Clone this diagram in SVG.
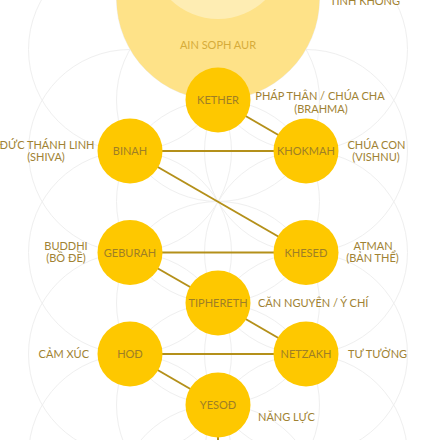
<svg xmlns="http://www.w3.org/2000/svg" width="435" height="440" viewBox="0 0 435 440">
<style>
.bg{fill:none;stroke:#efefef;stroke-width:1}
.node{fill:#FEC800}
.nt{font-family:Lato,"Open Sans","Noto Sans",sans-serif;font-size:11px;fill:#9E7F26;text-anchor:middle}
.lb{font-family:Lato,"Open Sans","Noto Sans",sans-serif;font-size:11px;fill:#A08233;text-anchor:middle}
.cn{stroke:#B4901A;stroke-width:2;fill:none}
</style>
<rect width="435" height="440" fill="#ffffff"/>
<g id="pattern">
<circle class="bg" cx="218" cy="-1.5" r="101.5"/>
<circle class="bg" cx="130" cy="49.5" r="101.5"/>
<circle class="bg" cx="306" cy="49.5" r="101.5"/>
<circle class="bg" cx="218" cy="100" r="101.5"/>
<circle class="bg" cx="130" cy="151" r="101.5"/>
<circle class="bg" cx="306" cy="151" r="101.5"/>
<circle class="bg" cx="218" cy="201.5" r="101.5"/>
<circle class="bg" cx="130" cy="252.5" r="101.5"/>
<circle class="bg" cx="306" cy="252.5" r="101.5"/>
<circle class="bg" cx="218" cy="303" r="101.5"/>
<circle class="bg" cx="130" cy="354" r="101.5"/>
<circle class="bg" cx="306" cy="354" r="101.5"/>
<circle class="bg" cx="218" cy="405" r="101.5"/>
<circle class="bg" cx="130" cy="456" r="101.5"/>
<circle class="bg" cx="306" cy="456" r="101.5"/>
<circle class="bg" cx="218" cy="506" r="101.5"/>
</g>
<g id="ain-soph-aur">
<circle cx="218" cy="-1.5" r="101.5" fill="#FEE288"/>
<circle cx="218" cy="-49" r="68" fill="#FEEDB3"/>
<text class="lb" x="218" y="49" style="fill:#D6AC3A">AIN SOPH AUR</text>
</g>
<g id="tinh-khong">
<text class="lb" x="365" y="5">TÍNH KHÔNG</text>
</g>
<g id="connectors">
<line class="cn" x1="218" y1="100" x2="306" y2="151"/>
<line class="cn" x1="130" y1="151" x2="306" y2="151"/>
<line class="cn" x1="130" y1="151" x2="306" y2="252.5"/>
<line class="cn" x1="130" y1="252.5" x2="306" y2="252.5"/>
<line class="cn" x1="130" y1="252.5" x2="218" y2="303"/>
<line class="cn" x1="218" y1="303" x2="306" y2="354"/>
<line class="cn" x1="130" y1="354" x2="306" y2="354"/>
<line class="cn" x1="130" y1="354" x2="218" y2="405"/>
<line class="cn" x1="218" y1="405" x2="218" y2="445"/>
</g>
<g id="kether">
<circle class="node" cx="218" cy="100" r="32.5"/>
<text class="nt" x="218" y="104">KETHER</text>
<text class="lb" x="320" y="100">PHÁP THÂN / CHÚA CHA</text>
<text class="lb" x="321" y="112.5">(BRAHMA)</text>
</g>
<g id="binah">
<circle class="node" cx="130" cy="151" r="32.5"/>
<text class="nt" x="130" y="155">BINAH</text>
<text class="lb" x="47" y="148.5">ĐỨC THÁNH LINH</text>
<text class="lb" x="46" y="161">(SHIVA)</text>
</g>
<g id="khokmah">
<circle class="node" cx="306" cy="151" r="32.5"/>
<text class="nt" x="306" y="155">KHOKMAH</text>
<text class="lb" x="376.5" y="148.5">CHÚA CON</text>
<text class="lb" x="376" y="161">(VISHNU)</text>
</g>
<g id="geburah">
<circle class="node" cx="130" cy="252.5" r="32.5"/>
<text class="nt" x="130" y="256.5">GEBURAH</text>
<text class="lb" x="66" y="249.5">BUDDHI</text>
<text class="lb" x="66" y="262">(BỒ ĐỀ)</text>
</g>
<g id="khesed">
<circle class="node" cx="306" cy="252.5" r="32.5"/>
<text class="nt" x="306" y="256.5">KHESEĐ</text>
<text class="lb" x="373" y="249.5">ATMAN</text>
<text class="lb" x="372.5" y="262">(BẢN THỂ)</text>
</g>
<g id="tiphereth">
<circle class="node" cx="218" cy="303" r="32.5"/>
<text class="nt" x="218" y="307">TIPHERETH</text>
<text class="lb" x="258" y="306.5" style="text-anchor:start">CĂN NGUYÊN / Ý CHÍ</text>
</g>
<g id="hod">
<circle class="node" cx="130" cy="354" r="32.5"/>
<text class="nt" x="130" y="358">HOĐ</text>
<text class="lb" x="89" y="357.5" style="text-anchor:end">CẢM XÚC</text>
</g>
<g id="netzakh">
<circle class="node" cx="306" cy="354" r="32.5"/>
<text class="nt" x="306" y="358">NETZAKH</text>
<text class="lb" x="348" y="357.5" style="text-anchor:start">TƯ TƯỞNG</text>
</g>
<g id="yesod">
<circle class="node" cx="218" cy="405" r="32.5"/>
<text class="nt" x="218" y="409">YESOĐ</text>
<text class="lb" x="258" y="421" style="text-anchor:start">NĂNG LỰC</text>
</g>
</svg>
